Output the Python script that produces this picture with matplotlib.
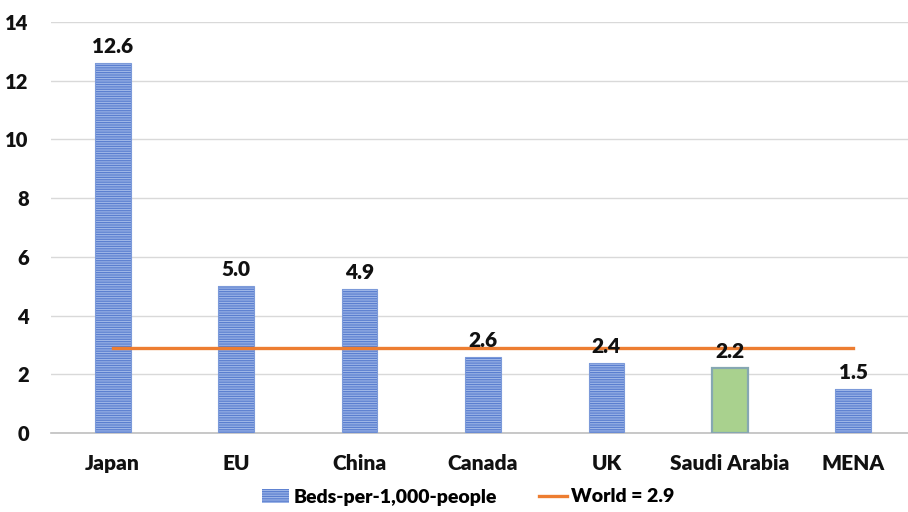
import matplotlib
matplotlib.use("Agg")
import matplotlib.pyplot as plt
from matplotlib.patches import Patch
from matplotlib.lines import Line2D

countries = ["Japan", "EU", "China", "Canada", "UK", "Saudi Arabia", "MENA"]
beds_per_1000 = [12.6, 5.0, 4.9, 2.6, 2.4, 2.2, 1.5]
value_labels = ["12.6", "5.0", "4.9", "2.6", "2.4", "2.2", "1.5"]
world_average = 2.9
y_ticks = [0, 2, 4, 6, 8, 10, 12, 14]

plt.rcParams["font.family"] = ["Lato", "DejaVu Sans"]
plt.rcParams["hatch.linewidth"] = 0.9
WEIGHT = "heavy"

fig = plt.figure(figsize=(9.08, 5.12), dpi=100)
ax = fig.add_axes([51 / 908, 79 / 512, 864 / 908, 411 / 512])

blue_fill = "#9fb7e8"
blue_hatch = "#5a7ecf"
green_fill = "#a9d18e"
x = list(range(len(countries)))
width = 0.29

for i, (xi, v) in enumerate(zip(x, beds_per_1000)):
    if countries[i] == "Saudi Arabia":
        ax.bar(xi, v, width=width, color=green_fill, edgecolor="#86a7b2",
               linewidth=1.6, zorder=3)
    else:
        ax.bar(xi, v, width=width, color=blue_fill, edgecolor="none",
               linewidth=0, zorder=3)
        ax.bar(xi, v, width=width, color="none", edgecolor=blue_hatch,
               hatch="-------", linewidth=0, zorder=3)
        ax.bar(xi, v, width=width, color="none", edgecolor="#7c9ad9",
               linewidth=0.8, zorder=3)
    ax.annotate(value_labels[i], (xi, v), xytext=(0, 5),
                textcoords="offset points", ha="center", va="bottom",
                fontsize=15, fontweight=WEIGHT, color="#111111", zorder=5)

ax.plot([x[0], x[-1]], [world_average, world_average], color="#ed7d31",
        linewidth=2.4, zorder=4)

ax.set_ylim(0, 14)
ax.set_xlim(-0.5, len(countries) - 0.5)
ax.set_yticks(y_ticks)
ax.set_yticklabels([str(t) for t in y_ticks], fontsize=14.5, fontweight=WEIGHT)
ax.set_xticks(x)
ax.set_xticklabels(countries, fontsize=15, fontweight=WEIGHT)
ax.tick_params(axis="both", length=0, colors="#111111")
ax.tick_params(axis="y", pad=16)
ax.tick_params(axis="x", pad=15)

ax.grid(axis="y", color="#d9d9d9", linewidth=1.0, zorder=0)
ax.set_axisbelow(True)
for side in ["top", "right", "left"]:
    ax.spines[side].set_visible(False)
ax.spines["bottom"].set_color("#bfbfbf")
ax.spines["bottom"].set_linewidth(1.2)

handles = [
    Patch(facecolor=blue_fill, edgecolor=blue_hatch, hatch="-------", linewidth=0),
    Line2D([0], [0], color="#ed7d31", linewidth=2.4),
]
fig.legend(handles, ["Beds-per-1,000-people", "World = 2.9"],
           loc="center", bbox_to_anchor=(468 / 908, 1 - 497 / 512), ncol=2,
           frameon=False, prop={"weight": WEIGHT, "size": 14},
           handlelength=1.4, handletextpad=0.2, columnspacing=2.2)

fig.savefig("out.png", dpi=100)
